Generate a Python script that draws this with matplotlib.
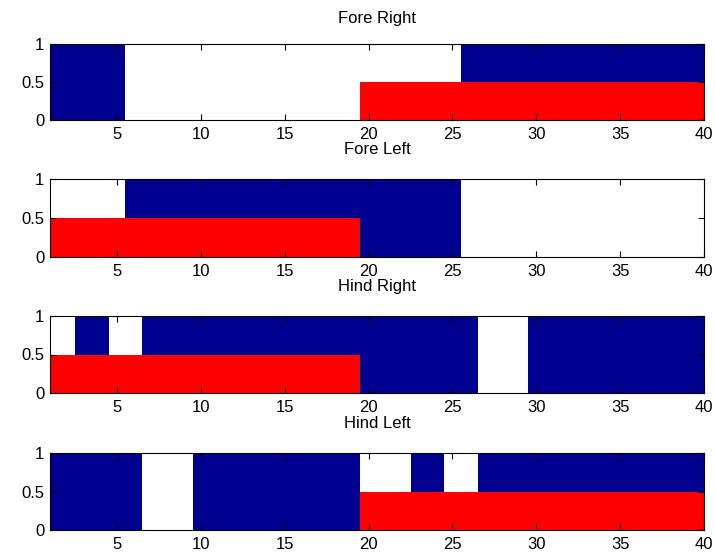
import numpy as np
import matplotlib.pyplot as plt

plt.rcParams['font.family'] = ['Liberation Sans', 'DejaVu Sans']

# frame index 1..40 for every leg
frames = np.arange(1, 41)

titles = ['Fore Right', 'Fore Left', 'Hind Right', 'Hind Left']

# stance (1) / swing (0) per frame
fore_right_blue = [1, 1, 1, 1, 1, 0, 0, 0, 0, 0, 0, 0, 0, 0, 0, 0, 0, 0, 0, 0,
                   0, 0, 0, 0, 0, 1, 1, 1, 1, 1, 1, 1, 1, 1, 1, 1, 1, 1, 1, 1]
fore_left_blue = [0, 0, 0, 0, 0, 1, 1, 1, 1, 1, 1, 1, 1, 1, 1, 1, 1, 1, 1, 1,
                  1, 1, 1, 1, 1, 0, 0, 0, 0, 0, 0, 0, 0, 0, 0, 0, 0, 0, 0, 0]
hind_right_blue = [0, 0, 1, 1, 0, 0, 1, 1, 1, 1, 1, 1, 1, 1, 1, 1, 1, 1, 1, 1,
                   1, 1, 1, 1, 1, 1, 0, 0, 0, 1, 1, 1, 1, 1, 1, 1, 1, 1, 1, 1]
hind_left_blue = [1, 1, 1, 1, 1, 1, 0, 0, 0, 1, 1, 1, 1, 1, 1, 1, 1, 1, 1, 0,
                  0, 0, 1, 1, 0, 0, 1, 1, 1, 1, 1, 1, 1, 1, 1, 1, 1, 1, 1, 1]

# reference phase (half height bars)
fore_right_red = [0, 0, 0, 0, 0, 0, 0, 0, 0, 0, 0, 0, 0, 0, 0, 0, 0, 0, 0, 0.5,
                  0.5, 0.5, 0.5, 0.5, 0.5, 0.5, 0.5, 0.5, 0.5, 0.5, 0.5, 0.5, 0.5, 0.5, 0.5, 0.5, 0.5, 0.5, 0.5, 0.5]
fore_left_red = [0.5, 0.5, 0.5, 0.5, 0.5, 0.5, 0.5, 0.5, 0.5, 0.5, 0.5, 0.5, 0.5, 0.5, 0.5, 0.5, 0.5, 0.5, 0.5, 0,
                 0, 0, 0, 0, 0, 0, 0, 0, 0, 0, 0, 0, 0, 0, 0, 0, 0, 0, 0, 0]
hind_right_red = [0.5, 0.5, 0.5, 0.5, 0.5, 0.5, 0.5, 0.5, 0.5, 0.5, 0.5, 0.5, 0.5, 0.5, 0.5, 0.5, 0.5, 0.5, 0.5, 0,
                  0, 0, 0, 0, 0, 0, 0, 0, 0, 0, 0, 0, 0, 0, 0, 0, 0, 0, 0, 0]
hind_left_red = [0, 0, 0, 0, 0, 0, 0, 0, 0, 0, 0, 0, 0, 0, 0, 0, 0, 0, 0, 0.5,
                 0.5, 0.5, 0.5, 0.5, 0.5, 0.5, 0.5, 0.5, 0.5, 0.5, 0.5, 0.5, 0.5, 0.5, 0.5, 0.5, 0.5, 0.5, 0.5, 0.5]

blues = [fore_right_blue, fore_left_blue, hind_right_blue, hind_left_blue]
reds = [fore_right_red, fore_left_red, hind_right_red, hind_left_red]

fig = plt.figure(figsize=(7.15, 5.56), dpi=100)

# axes boxes in pixels: top, bottom, and title centre line
boxes = [(44, 120, 19), (179, 257, 150), (316, 393, 287), (453, 530, 424)]
W, H = 715, 556
left, right = 50, 704

for (top, bot, ty), title, b, r in zip(boxes, titles, blues, reds):
    ax = fig.add_axes([left / W, 1 - bot / H, (right - left) / W, (bot - top) / H])
    ax.bar(frames, b, width=1.0, color='#00008F', linewidth=0)
    ax.bar(frames, r, width=1.0, color='#FF0000', linewidth=0)
    ax.set_xlim(1, 40)
    ax.set_ylim(0, 1)
    ax.set_xticks([5, 10, 15, 20, 25, 30, 35, 40])
    ax.set_yticks([0, 0.5, 1])
    ax.set_yticklabels(['0', '0.5', '1'])
    ax.tick_params(direction='in', length=4, top=True, right=True, labelsize=12)
    ax.tick_params(axis='x', pad=5)
    ax.tick_params(axis='y', pad=4)
    for s in ax.spines.values():
        s.set_linewidth(0.8)
    fig.text((left + right) / 2 / W, 1 - ty / H, title, fontsize=12,
             ha='center', va='center')

fig.savefig('out.png', dpi=100)
